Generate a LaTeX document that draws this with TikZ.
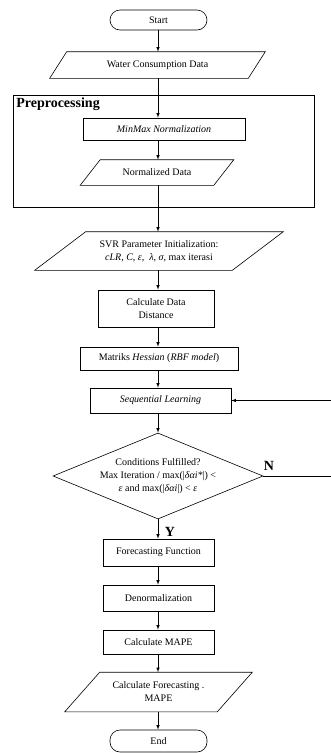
\documentclass[tikz,border=0pt]{standalone}
\usepackage{fontspec}
\setmainfont{Liberation Serif}
\usetikzlibrary{shapes.geometric}
\usetikzlibrary{arrows}

% parallelogram outline around a plain node
\newcommand{\iodraw}[2]{\draw ([xshift=#2pt]#1.north west) -- (#1.north east) -- ([xshift=-#2pt]#1.south east) -- (#1.south west) -- cycle;}

\tikzset{
  >=latex,
  every node/.style={font=\fontsize{10}{13}\selectfont},
  procbox/.style={draw, rectangle, inner sep=0pt, align=center},
  iobox/.style={rectangle, inner sep=0pt, align=center},
  termbox/.style={draw, rectangle, rounded corners=10pt, inner sep=0pt, minimum width=97pt},
  decbox/.style={draw, diamond, aspect=2.44, inner sep=0pt, align=center},
  flowlabel/.style={font=\fontsize{14}{16}\selectfont\bfseries, inner sep=0pt}
}

\begin{document}
\begin{tikzpicture}[x=1pt, y=-1pt, line width=0.6pt]
\useasboundingbox (0,0) rectangle (330,753);

\node[termbox, minimum height=20pt] (start) at (158.5,20) {Start};
\node[iobox, minimum width=215pt, minimum height=26pt] (water) at (157.5,65) {Water Consumption Data};
\iodraw{water}{17}

\node[draw, rectangle, anchor=north west, minimum width=301pt, minimum height=112pt, inner sep=0pt] (prep) at (13,95) {};
\node[flowlabel, anchor=north west] (preplabel) at ([xshift=3pt,yshift=-2pt]prep.north west) {Preprocessing};
\node[procbox, minimum width=162pt, minimum height=22pt] (minmax) at (164,129) {\textit{MinMax Normalization}};
\node[iobox, minimum width=153pt, minimum height=25pt] (normdata) at (157,172.5) {Normalized Data};
\iodraw{normdata}{20}

\node[iobox, minimum width=248pt, minimum height=38pt] (svrinit) at (159,251)
  {SVR Parameter Initialization:\\ \textit{cLR, C, ε, \ λ, σ,} max iterasi};
\iodraw{svrinit}{51}
\node[procbox, minimum width=116pt, minimum height=37pt] (datadist) at (156,308.5) {Calculate Data\\ Distance};
\node[procbox, minimum width=158pt, minimum height=23pt] (hessian) at (159,358.5) {Matriks \textit{Hessian} (\textit{RBF model})};
\node[procbox, minimum width=141pt, minimum height=25pt] (seqlearn) at (160.5,400.5) {\textit{Sequential Learning}};
\node[decbox, minimum width=210pt, minimum height=86pt] (cond) at (158,476)
  {Conditions Fulfilled?\\ Max Iteration / max(|\textit{δαi*}|) <\\ \textit{ε} and max(|\textit{δαi}|) < \textit{ε}};
\node[procbox, minimum width=111pt, minimum height=27pt] (forecast) at (158.5,552.5) {Forecasting Function};
\node[procbox, minimum width=111pt, minimum height=26pt] (denorm) at (158.5,598) {Denormalization};
\node[procbox, minimum width=111pt, minimum height=24pt] (mape) at (158.5,642) {Calculate MAPE};
\node[iobox, minimum width=187pt, minimum height=39pt] (result) at (158.5,692) {Calculate Forecasting .\\ MAPE};
\iodraw{result}{35}
\node[termbox, minimum height=22pt] (finish) at (158.5,741) {End};

\node[flowlabel] (nlabel) at (269,466) {N};
\node[flowlabel] (ylabel) at (170,532) {Y};

\draw[->] (start.south -| cond) -- (water.north -| cond);
\draw[->] (water.south -| cond) -- (minmax.north -| cond);
\draw[->] (minmax.south -| cond) -- (normdata.north -| cond);
\draw[->] (normdata.south -| cond) -- (svrinit.north -| cond);
\draw[->] (svrinit.south -| cond) -- (datadist.north -| cond);
\draw[->] (datadist.south -| cond) -- (hessian.north -| cond);
\draw[->] (hessian.south -| cond) -- (seqlearn.north -| cond);
\draw[->] (seqlearn.south -| cond) -- (cond.north);
\draw[->] (cond.south) -- (forecast.north -| cond);
\draw[->] (forecast.south -| cond) -- (denorm.north -| cond);
\draw[->] (denorm.south -| cond) -- (mape.north -| cond);
\draw[->] (mape.south -| cond) -- (result.north -| cond);
\draw[->] (result.south -| cond) -- (finish.north -| cond);

\coordinate (loop) at (333,476);
\draw[->] (cond.east) -- (loop) |- (seqlearn.east);
\end{tikzpicture}
\end{document}
